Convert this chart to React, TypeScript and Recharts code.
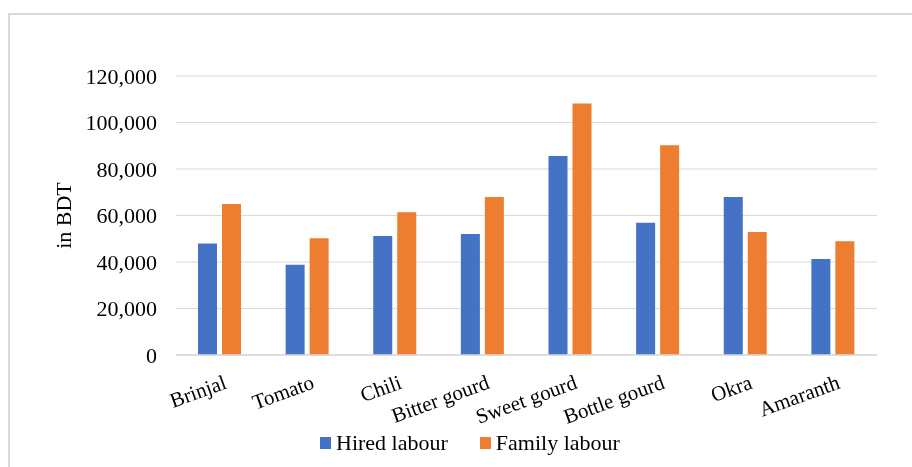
import React from 'react';
import { BarChart, Bar, XAxis, YAxis, CartesianGrid, Legend } from 'recharts';

const categories = ['Brinjal', 'Tomato', 'Chili', 'Bitter gourd', 'Sweet gourd', 'Bottle gourd', 'Okra', 'Amaranth'];
const hiredLabour = [48000, 38800, 51200, 52000, 85600, 56900, 68000, 41300];
const familyLabour = [64900, 50200, 61400, 68000, 108200, 90200, 52900, 48900];
const yTicks = [0, 20000, 40000, 60000, 80000, 100000, 120000];
const seriesNames = ['Hired labour', 'Family labour'];
const seriesColors = ['#4472C4', '#ED7D31'];

const data = categories.map((c, i) => ({ name: c, hired: hiredLabour[i], family: familyLabour[i] }));

const FONT = '"Liberation Serif", "Times New Roman", serif';

const XTick = (props: any) => {
  const { x, y, payload } = props;
  return (
    <g transform={`translate(${x + 8}, ${y + 33}) rotate(-20)`}>
      <text x={0} y={0} textAnchor="end" fontFamily={FONT} fontSize={21} fill="#000">
        {payload.value}
      </text>
    </g>
  );
};

const LegendContent = () => (
  <div style={{ display: 'flex', alignItems: 'center', whiteSpace: 'nowrap', fontFamily: FONT, fontSize: 22, lineHeight: '25px', color: '#000' }}>
    {seriesNames.map((n, i) => (
      <div key={n} style={{ display: 'flex', alignItems: 'center', marginRight: i === 0 ? 32 : 0 }}>
        <span style={{ display: 'inline-block', width: 11, height: 12, background: seriesColors[i], marginRight: 5 }} />
        <span>{n}</span>
      </div>
    ))}
  </div>
);

export default function App() {
  return (
    <div style={{ position: 'relative', width: 904, height: 459 }}>
      <div style={{ position: 'fixed', left: 8, top: 13, width: 904, height: 454, borderTop: '2px solid #d9d9d9', borderLeft: '2px solid #d9d9d9', boxSizing: 'border-box' }} />
      <BarChart width={904} height={459} data={data} margin={{ top: 68, right: 35, left: 0, bottom: 82 }} barGap={5} barSize={19}>
        <CartesianGrid vertical={false} stroke="#d9d9d9" strokeWidth={1.2} />
        <XAxis dataKey="name" height={30} tickLine={false} axisLine={{ stroke: '#d9d9d9', strokeWidth: 1.5 }} tickSize={0} tickMargin={0} tick={<XTick />} interval={0} />
        <YAxis width={168} domain={[0, 120000]} ticks={yTicks} axisLine={false} tickLine={false} tickSize={0} tickMargin={19}
          tickFormatter={(v: number) => v.toLocaleString('en-US')}
          tick={{ fontFamily: FONT, fontSize: 22, fill: '#000' }}
          label={{ value: 'in BDT', angle: -90, position: 'insideLeft', offset: 55, style: { textAnchor: 'middle', fontFamily: FONT, fontSize: 22, fill: '#000' } }} />
        <Legend verticalAlign="middle" layout="horizontal" content={<LegendContent />} wrapperStyle={{ position: 'absolute', left: 312, top: 422, width: 'auto', height: 'auto' }} />
        <Bar dataKey="hired" name={seriesNames[0]} fill={seriesColors[0]} isAnimationActive={false} />
        <Bar dataKey="family" name={seriesNames[1]} fill={seriesColors[1]} isAnimationActive={false} />
      </BarChart>
    </div>
  );
}
